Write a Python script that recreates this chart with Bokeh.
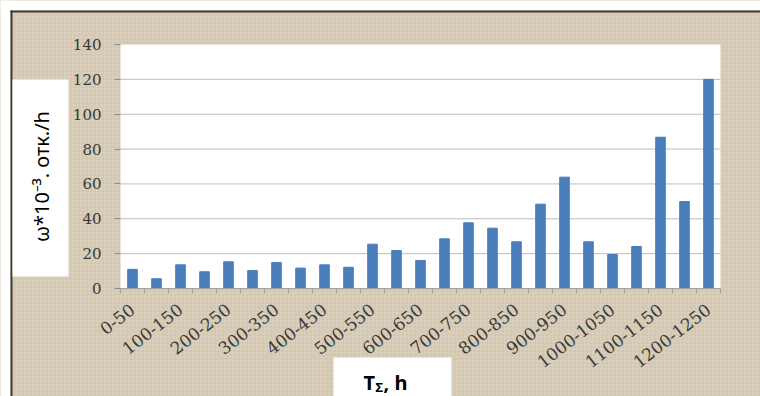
from math import pi
from bokeh.plotting import figure
from bokeh.models import Range1d, FixedTicker, LinearAxis, BoxAnnotation, Label
from bokeh.embed import file_html
from bokeh.resources import INLINE

# ---- data -------------------------------------------------------------
categories = ["0-50", "50-100", "100-150", "150-200", "200-250", "250-300",
              "300-350", "350-400", "400-450", "450-500", "500-550", "550-600",
              "600-650", "650-700", "700-750", "750-800", "800-850", "850-900",
              "900-950", "950-1000", "1000-1050", "1050-1100", "1100-1150",
              "1150-1200", "1200-1250"]
values = [11, 5.6, 13.6, 9.6, 15.3, 10.3, 14.9, 11.7, 13.6, 12.2, 25.4, 21.8,
          16.1, 28.5, 37.7, 34.6, 26.8, 48.4, 63.9, 26.8, 19.5, 24.1, 86.8,
          49.9, 120]
y_ticks = [0, 20, 40, 60, 80, 100, 120, 140]
y_label = "ω*10⁻³. отк./h"
x_label_main = "T"
x_label_sub = "Σ"
x_label_rest = ", h"

# ---- style / layout ---------------------------------------------------
BEIGE = "#d9cfbb"
BLUE = "#4a7ebb"
TICK_FONT = "DejaVu Serif"
TITLE_FONT = "Noto Sans"
W, H = 760, 396
PL, PR, PT, PB = 120, 720, 44, 288      # pixel edges of the white plot area

n = len(categories)
idx = list(range(n))
y_max = y_ticks[-1]
xu = (PR - PL) / n
yu = (PB - PT) / y_max
x_start = -0.5 - PL / xu
x_end = x_start + W / xu
y_start = -(H - PB) / yu
y_end = y_start + H / yu


def dx(px):
    return x_start + px / xu


def dy(py):
    return y_end - py / yu


p = figure(width=W, height=H, x_range=Range1d(x_start, x_end),
           y_range=Range1d(y_start, y_end), output_backend="svg",
           toolbar_location=None, x_axis_location=None, y_axis_location=None,
           min_border=0)
p.grid.visible = False
p.outline_line_color = None
p.background_fill_color = BEIGE
p.border_fill_color = BEIGE

# linen-like texture
p.add_layout(BoxAnnotation(left=dx(0), right=dx(W), top=dy(0), bottom=dy(H),
                           fill_color=BEIGE, fill_alpha=1, line_color=None,
                           hatch_pattern="+", hatch_color="#c2b7a1", hatch_alpha=0.4,
                           hatch_scale=4, hatch_weight=1, level="underlay"))
# white plot area
p.add_layout(BoxAnnotation(left=-0.5, right=n - 0.5, bottom=0, top=y_max,
                           fill_color="white", fill_alpha=1, line_color=None,
                           level="underlay"))

# grid lines
grid_vals = y_ticks[1:-1]
p.segment(x0=[-0.5] * len(grid_vals), x1=[n - 0.5] * len(grid_vals),
          y0=grid_vals, y1=grid_vals, line_color="#bdbdbd", line_width=1)

# bars
p.vbar(x=idx, top=values, width=0.4, color=BLUE)

# axes
yaxis = LinearAxis(fixed_location=-0.5, bounds=(0, y_max), ticker=FixedTicker(ticks=y_ticks))
yaxis.axis_line_color = None
yaxis.major_tick_line_color = "#8c8c8c"
yaxis.major_tick_out = 6
yaxis.major_tick_in = 0
yaxis.minor_tick_line_color = None
yaxis.major_label_standoff = 13
yaxis.major_label_text_font = TICK_FONT
yaxis.major_label_text_font_size = "15px"
yaxis.major_label_text_color = "#383838"
p.add_layout(yaxis, "left")

xaxis = LinearAxis(fixed_location=0, bounds=(-0.5, n - 0.5),
                   ticker=FixedTicker(ticks=idx[::2], minor_ticks=[i - 0.5 for i in range(n + 1)]))
xaxis.axis_line_color = "#a0a0a0"
xaxis.major_tick_line_color = None
xaxis.minor_tick_line_color = "#a0a0a0"
xaxis.minor_tick_out = 5
xaxis.minor_tick_in = 0
xaxis.major_label_orientation = 0.66
xaxis.major_label_standoff = 13
xaxis.major_label_text_font = TICK_FONT
xaxis.major_label_text_font_size = "17px"
xaxis.major_label_text_color = "#383838"
xaxis.major_label_overrides = {i: categories[i] for i in idx[::2]}
p.add_layout(xaxis, "below")

# page edge: white margin and dark frame line
p.add_layout(BoxAnnotation(left=dx(0), right=dx(10), top=dy(0), bottom=dy(H),
                           fill_color="white", fill_alpha=1, line_color=None))
p.add_layout(BoxAnnotation(left=dx(0), right=dx(W), top=dy(0), bottom=dy(10),
                           fill_color="white", fill_alpha=1, line_color=None))
p.add_layout(BoxAnnotation(left=dx(10), right=dx(12), top=dy(10), bottom=dy(H),
                           fill_color="#3a3a3a", fill_alpha=1, line_color=None))
p.add_layout(BoxAnnotation(left=dx(10), right=dx(W), top=dy(10), bottom=dy(12),
                           fill_color="#3a3a3a", fill_alpha=1, line_color=None))

# white boxes behind the axis titles
p.add_layout(BoxAnnotation(left=dx(12), right=dx(68), top=dy(79), bottom=dy(276),
                           fill_color="white", fill_alpha=1, line_color=None))
p.add_layout(BoxAnnotation(left=dx(333), right=dx(451), top=dy(357), bottom=dy(H),
                           fill_color="white", fill_alpha=1, line_color=None))

# axis titles
p.add_layout(Label(x=dx(41), y=dy(176), text=y_label, angle=pi / 2,
                   text_align="center", text_baseline="middle",
                   text_font=TITLE_FONT, text_font_size="20px", text_color="black"))
p.add_layout(Label(x=dx(363), y=dy(382), text=x_label_main, text_baseline="alphabetic",
                   text_font=TITLE_FONT, text_font_style="bold", text_font_size="20px",
                   text_color="black"))
p.add_layout(Label(x=dx(375), y=dy(386), text=x_label_sub, text_baseline="alphabetic",
                   text_font=TITLE_FONT, text_font_style="bold", text_font_size="13px",
                   text_color="black"))
p.add_layout(Label(x=dx(383), y=dy(382), text=x_label_rest, text_baseline="alphabetic",
                   text_font=TITLE_FONT, text_font_style="bold", text_font_size="20px",
                   text_color="black"))

open("out.html", "w").write(file_html(p, INLINE))
